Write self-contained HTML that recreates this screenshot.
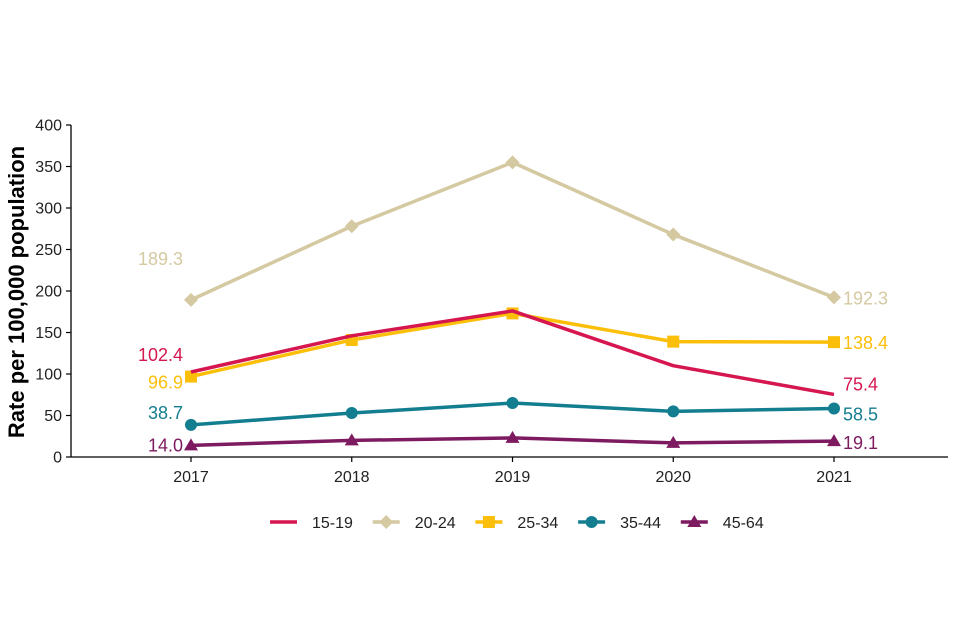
<!DOCTYPE html>
<html><head><meta charset="utf-8"><style>
html,body{margin:0;padding:0;background:#fff;width:960px;height:640px;overflow:hidden}
svg text{font-family:"Liberation Sans",Arial,sans-serif}
</style></head><body>
<svg id="chart" width="960" height="640" xmlns="http://www.w3.org/2000/svg"></svg>
<script>
const years = ["2017","2018","2019","2020","2021"];
const yTicks = [0,50,100,150,200,250,300,350,400];
const seriesNames = ["15-19","20-24","25-34","35-44","45-64"];
const s1519 = [102.4,146,176,110,75.4];
const s2024 = [189.3,278,355,268,192.3];
const s2534 = [96.9,141,173,139,138.4];
const s3544 = [38.7,53,65,55,58.5];
const s4564 = [14.0,20,23,17,19.1];
const seriesValues = [s1519,s2024,s2534,s3544,s4564];
const colors = ["#d5164f","#d4c9a1","#fbbf0a","#137e8f","#7d1a60"];
const markers = ["none","diamond","square","circle","triangle"];
const leftLabelDy = [-17,-41,6,-12,0];
const rightLabelDy = [-10,1,1,6,2];

const NS="http://www.w3.org/2000/svg";
const svg=document.getElementById('chart');
function el(t,a,p){const e=document.createElementNS(NS,t);for(const k in a)e.setAttribute(k,a[k]);(p||svg).appendChild(e);return e;}
const x0=191,xStep=160.75;
function xs(i){return x0+i*xStep;}
function ys(v){return 457-v*0.83;}

let e=el('line',{x1:71,y1:125,x2:71,y2:457,stroke:'#000','stroke-width':1.3});


e=el('line',{x1:71,y1:457,x2:948,y2:457,stroke:'#000','stroke-width':1.3});


yTicks.forEach(t=>{
  const y=ys(t);
  el('line',{x1:66,y1:y,x2:71,y2:y,stroke:'#000','stroke-width':1.2});
  const tx=el('text',{x:62,y:y+5.5,'text-anchor':'end','font-size':16,fill:'#222'});
  tx.textContent=t;
  
  
});
years.forEach((yr,i)=>{
  const x=xs(i);
  el('line',{x1:x,y1:457,x2:x,y2:462,stroke:'#000','stroke-width':1.2});
  const tx=el('text',{x:x,y:482,'text-anchor':'middle','font-size':16,fill:'#222'});
  tx.textContent=yr;
  
  
});
e=el('text',{x:0,y:0,transform:'translate(24,292) rotate(-90)','text-anchor':'middle','font-size':22,'font-weight':'bold',fill:'#000'});
e.textContent='Rate per 100,000 population';



function marker(type,x,y,c,g){
  if(type==='diamond') return el('polygon',{points:`${x},${y-7} ${x+7},${y} ${x},${y+7} ${x-7},${y}`,fill:c},g);
  if(type==='square') return el('rect',{x:x-6,y:y-6,width:12,height:12,fill:c},g);
  if(type==='circle') return el('circle',{cx:x,cy:y,r:6,fill:c},g);
  if(type==='triangle') return el('polygon',{points:`${x},${y-7} ${x+7},${y+5} ${x-7},${y+5}`,fill:c},g);
  return null;
}

const drawOrder=[1,2,0,3,4];
drawOrder.forEach(s=>{
  const g=el('g',{});
  
  
  const vals=seriesValues[s];
  const pts=vals.map((v,i)=>xs(i)+','+ys(v)).join(' ');
  const pl=el('polyline',{points:pts,fill:'none',stroke:colors[s],'stroke-width':3.5,'stroke-linejoin':'round'},g);
  
  
  vals.forEach((v,i)=>{
    const m=marker(markers[s],xs(i),ys(v),colors[s],g);
    if(m){
    }
  });
  const n=vals.length-1;
  const lt=el('text',{x:xs(0)-8,y:ys(vals[0])+leftLabelDy[s]+6,'text-anchor':'end','font-size':18,fill:colors[s]},g);
  lt.textContent=vals[0].toFixed(1);
  
  
  const rt=el('text',{x:xs(n)+9,y:ys(vals[n])+rightLabelDy[s]+6,'text-anchor':'start','font-size':18,fill:colors[s]},g);
  rt.textContent=vals[n].toFixed(1);
  
  
});

seriesNames.forEach((nm,s)=>{
  const lx=270+s*102.7;
  const g=el('g',{});
  
  
  el('line',{x1:lx,y1:522,x2:lx+27,y2:522,stroke:colors[s],'stroke-width':3.5},g);
  marker(markers[s],lx+13.5,522,colors[s],g);
  const t=el('text',{x:lx+42,y:528,'font-size':16,fill:'#222'},g);
  t.textContent=nm;
});
</script>
</body></html>
